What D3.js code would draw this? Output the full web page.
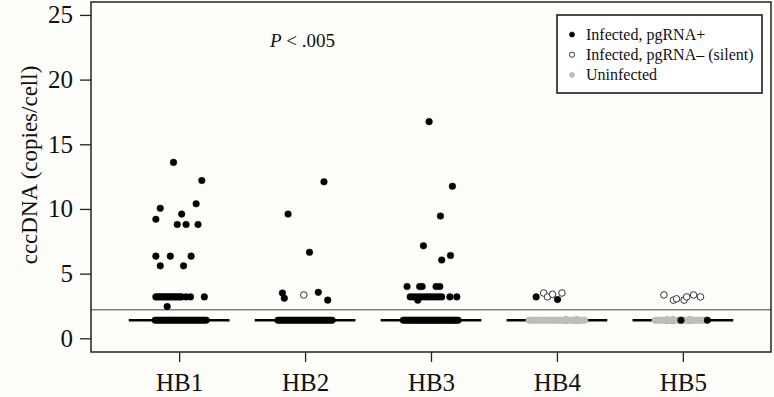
<!DOCTYPE html>
<html>
<head>
<meta charset="utf-8">
<script src="https://cdn.jsdelivr.net/npm/d3@7"></script>
<style>
  body { margin: 0; background: #fdfdf9; }
  svg { display: block; }
  text { font-family: "Liberation Serif", "DejaVu Serif", serif; fill: #111; }
</style>
</head>
<body>
<svg id="chart"></svg>
<script>
// cccDNA per cell, jittered dot plot by donor

const groups = ["HB1", "HB2", "HB3", "HB4", "HB5"];
const yTicks = [0, 5, 10, 15, 20, 25];
const medians = [1.4, 1.4, 1.4, 1.4, 1.4];
const lodValue = 2.2;

// single points: [status, value, jitter (group units)]
const hb1Points = [
  ["pos", 13.6, -0.045], ["pos", 12.2, 0.18], ["pos", 10.05, -0.15], ["pos", 10.4, 0.135],
  ["pos", 9.6, 0.02], ["pos", 9.2, -0.185], ["pos", 8.8, -0.015], ["pos", 8.8, 0.055],
  ["pos", 8.8, 0.15], ["pos", 6.35, -0.185], ["pos", 6.35, -0.07], ["pos", 6.35, 0.095],
  ["pos", 5.6, -0.15], ["pos", 5.6, 0.035], ["pos", 3.2, 0.2], ["pos", 3.2, 0.055],
  ["pos", 3.2, 0.09], ["pos", 2.45, -0.095]
];
const hb2Points = [
  ["pos", 12.1, 0.15], ["pos", 9.6, -0.135], ["pos", 6.65, 0.035], ["pos", 3.5, -0.18],
  ["pos", 3.1, -0.165], ["neg", 3.35, -0.01], ["pos", 3.55, 0.105], ["pos", 2.95, 0.18]
];
const hb3Points = [
  ["pos", 16.75, -0.015], ["pos", 11.75, 0.17], ["pos", 9.45, 0.075], ["pos", 7.15, -0.06],
  ["pos", 6.4, 0.155], ["pos", 6.05, 0.085], ["pos", 4.0, -0.19], ["pos", 4.0, -0.09],
  ["pos", 4.0, -0.07], ["pos", 4.0, 0.04], ["pos", 4.0, 0.07], ["pos", 3.2, 0.15],
  ["pos", 3.2, 0.205], ["pos", 2.95, -0.105]
];
const hb4Points = [
  ["pos", 3.2, -0.165], ["neg", 3.5, -0.105], ["neg", 3.2, -0.075], ["neg", 3.4, -0.035],
  ["pos", 3.0, 0.005], ["neg", 3.5, 0.04], ["neg", 1.4, 0.07], ["neg", 1.4, 0.155]
];
const hb5Points = [
  ["neg", 3.35, -0.15], ["neg", 2.95, -0.075], ["neg", 3.05, -0.05], ["neg", 2.95, 0.01],
  ["neg", 3.2, 0.03], ["neg", 3.35, 0.085], ["neg", 3.2, 0.14], ["neg", 1.4, -0.125],
  ["neg", 1.4, -0.08], ["neg", 1.4, 0.055], ["pos", 1.4, -0.015], ["pos", 1.4, 0.195]
];

// crowded rows of equal values: [status, value, count, jitter from, jitter to]
const hb1Rows = [["pos", 3.2, 14, -0.185, 0.02], ["pos", 1.4, 24, -0.19, 0.215]];
const hb2Rows = [["pos", 1.4, 26, -0.215, 0.215]];
const hb3Rows = [["pos", 3.2, 12, -0.165, 0.085], ["pos", 1.4, 30, -0.22, 0.215]];
const hb4Rows = [["uninf", 1.4, 28, -0.22, 0.22]];
const hb5Rows = [["uninf", 1.4, 24, -0.22, 0.175]];

const legendItems = [
  ["pos", "Infected, pgRNA+"],
  ["neg", "Infected, pgRNA\u2013 (silent)"],
  ["uninf", "Uninfected"]
];

const pointsByGroup = [hb1Points, hb2Points, hb3Points, hb4Points, hb5Points];
const rowsByGroup = [hb1Rows, hb2Rows, hb3Rows, hb4Rows, hb5Rows];

const W = 774, H = 397;
const margin = { top: 2, right: 3, bottom: 45, left: 91 };

const svg = d3.select("#chart").attr("width", W).attr("height", H);
svg.append("rect").attr("width", W).attr("height", H).attr("fill", "#fdfdf9");

const x = d3.scalePoint().domain(groups).range([margin.left, W - margin.right]).padding(0.7);
const y = d3.scaleLinear().domain([-1.06, 26]).range([H - margin.bottom, margin.top]);
const step = x.step();

const styles = {
  pos:   { fill: "#000", stroke: "#000", sw: 0.5 },
  neg:   { fill: "#fff", stroke: "#333", sw: 1 },
  uninf: { fill: "#bdbdbd", stroke: "#bdbdbd", sw: 0.5 }
};
const order = { neg: 0, uninf: 1, pos: 2 };

// flatten everything into dots
let dots = [];
groups.forEach((g, i) => {
  pointsByGroup[i].forEach(([s, v, j]) => dots.push({ g, s, v, j }));
  rowsByGroup[i].forEach(([s, v, n, a, b]) => {
    d3.range(n).forEach(k => dots.push({ g, s, v, j: a + (b - a) * k / (n - 1) }));
  });
});
dots.sort((a, b) => order[a.s] - order[b.s]);

// LOD reference line
svg.append("line")
  .attr("x1", margin.left).attr("x2", W - margin.right)
  .attr("y1", y(lodValue)).attr("y2", y(lodValue))
  .attr("stroke", "#444").attr("stroke-width", 1);

// median bars
svg.append("g").selectAll("line").data(groups).join("line")
  .attr("x1", g => x(g) - 0.4 * step).attr("x2", g => x(g) + 0.4 * step)
  .attr("y1", (g, i) => y(medians[i])).attr("y2", (g, i) => y(medians[i]))
  .attr("stroke", "#000").attr("stroke-width", 2.4);

svg.append("g").selectAll("circle").data(dots).join("circle")
  .attr("cx", d => x(d.g) + d.j * step)
  .attr("cy", d => y(d.v))
  .attr("r", 3.3)
  .attr("fill", d => styles[d.s].fill)
  .attr("stroke", d => styles[d.s].stroke)
  .attr("stroke-width", d => styles[d.s].sw);

// frame
svg.append("rect")
  .attr("x", margin.left).attr("y", margin.top)
  .attr("width", W - margin.right - margin.left)
  .attr("height", H - margin.bottom - margin.top)
  .attr("fill", "none").attr("stroke", "#222").attr("stroke-width", 1.5);

// axes
const yAxis = svg.append("g")
  .attr("transform", `translate(${margin.left},0)`)
  .call(d3.axisLeft(y).tickValues(yTicks).tickSize(11).tickPadding(7));
yAxis.select(".domain").remove();
yAxis.selectAll("line").attr("stroke", "#222").attr("stroke-width", 1.3);
yAxis.selectAll("text").attr("font-size", 25).attr("font-family", "Liberation Serif").attr("fill", "#111");

const xAxis = svg.append("g")
  .attr("transform", `translate(0,${H - margin.bottom})`)
  .call(d3.axisBottom(x).tickSize(10).tickPadding(11));
xAxis.select(".domain").remove();
xAxis.selectAll("line").attr("stroke", "#222").attr("stroke-width", 1.3);
xAxis.selectAll("text").attr("font-size", 25).attr("font-family", "Liberation Serif").attr("fill", "#111");

svg.append("text")
  .attr("transform", "translate(37,165) rotate(-90)")
  .attr("text-anchor", "middle")
  .attr("font-size", 23)
  .text("cccDNA (copies/cell)");

const pText = svg.append("text").attr("x", 270).attr("y", 47).attr("font-size", 19);
pText.append("tspan").attr("font-style", "italic").text("P");
pText.append("tspan").text(" < .005");

// legend
const lg = svg.append("g").attr("transform", "translate(557,15)");
lg.append("rect").attr("width", 205).attr("height", 78)
  .attr("fill", "#fff").attr("stroke", "#111").attr("stroke-width", 1.5);
legendItems.forEach(([s, label], i) => {
  const cy = 19.5 + i * 20.2;
  lg.append("circle").attr("cx", 15).attr("cy", cy).attr("r", 2.6)
    .attr("fill", styles[s].fill).attr("stroke", styles[s].stroke).attr("stroke-width", styles[s].sw);
  lg.append("text").attr("x", 29).attr("y", cy + 5.5).attr("font-size", 16).text(label);
});
</script>
</body>
</html>
